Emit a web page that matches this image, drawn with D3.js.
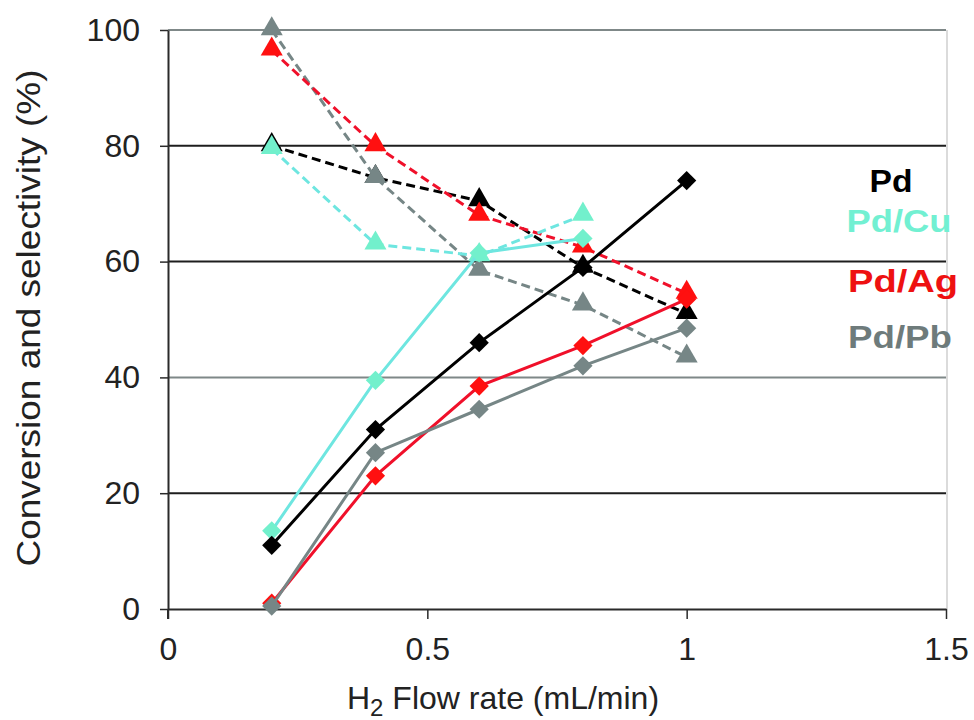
<!DOCTYPE html>
<html>
<head>
<meta charset="utf-8">
<script src="https://cdn.jsdelivr.net/npm/d3@7"></script>
<style>
  html, body { margin: 0; padding: 0; background: #fff; }
  svg { display: block; font-family: "Liberation Sans", Arial, sans-serif; }
</style>
</head>
<body>
<svg id="chart" width="974" height="720"></svg>
<script>
// ---- data ----
const flowRates = [0.2, 0.4, 0.6, 0.8, 1.0];
const xTicks = [0, 0.5, 1, 1.5];
const yTicks = [0, 20, 40, 60, 80, 100];

const pdConversion   = [11, 31, 46, 59, 74];
const pdSelectivity  = [80, 74.5, 70.5, 59, 51];
const cuConversion   = [13.5, 39.5, 61.5, 64, null];
const cuSelectivity  = [79.5, 63, 61, 68, null];
const agConversion   = [1, 23, 38.5, 45.5, 53.5];
const agSelectivity  = [96.5, 80, 68, 62.5, 54.5];
const pbConversion   = [0.5, 27, 34.5, 42, 48.5];
const pbSelectivity  = [100, 74.5, 58.5, 52.5, 43.5];

const catalysts = ["Pd", "Pd/Cu", "Pd/Ag", "Pd/Pb"];

// ---- styles ----
const colors = {
  "Pd":    { line: "#000000", mark: "#000000", text: "#000000" },
  "Pd/Cu": { line: "#6ee6e0", mark: "#72f0cc", text: "#72f0d2" },
  "Pd/Ag": { line: "#f0102a", mark: "#ff1010", text: "#ee1111" },
  "Pd/Pb": { line: "#768686", mark: "#768686", text: "#6e7b7b" }
};

const series = [
  { cat: "Pd",    kind: "sel",  values: pdSelectivity },
  { cat: "Pd/Pb", kind: "sel",  values: pbSelectivity },
  { cat: "Pd/Ag", kind: "sel",  values: agSelectivity },
  { cat: "Pd/Cu", kind: "sel",  values: cuSelectivity },
  { cat: "Pd/Cu", kind: "conv", values: cuConversion },
  { cat: "Pd/Ag", kind: "conv", values: agConversion },
  { cat: "Pd/Pb", kind: "conv", values: pbConversion },
  { cat: "Pd",    kind: "conv", values: pdConversion }
];

const svg = d3.select("#chart");
const x = d3.scaleLinear().domain([0, 1.5]).range([168, 946]);
const y = d3.scaleLinear().domain([0, 100]).range([609, 30]);

// gridlines
svg.append("g").selectAll("line")
  .data(yTicks.filter(d => d > 0))
  .join("line")
  .attr("x1", x(0)).attr("x2", x(1.5))
  .attr("y1", d => y(d)).attr("y2", d => y(d))
  .attr("stroke", d => (d === 100 || d === 40) ? "#7f8888" : "#1e1e1e")
  .attr("stroke-width", 2);

// right border
svg.append("line")
  .attr("x1", x(1.5) + 1).attr("x2", x(1.5) + 1)
  .attr("y1", y(100)).attr("y2", y(0))
  .attr("stroke", "#cfcfcf").attr("stroke-width", 1.5);

// axes
const xAxis = d3.axisBottom(x).tickValues(xTicks).tickFormat(d3.format("")).tickSizeInner(10).tickSizeOuter(0).tickPadding(18);
const yAxis = d3.axisLeft(y).tickValues(yTicks).tickSizeInner(8).tickSizeOuter(0).tickPadding(20);

const gx = svg.append("g").attr("transform", `translate(0,${y(0)})`).call(xAxis);
const gy = svg.append("g").attr("transform", `translate(${x(0)},0)`).call(yAxis);
[gx, gy].forEach(g => {
  g.select(".domain").attr("stroke", "#2a2a2a").attr("stroke-width", 2);
  g.selectAll(".tick line").attr("stroke", "#2a2a2a").attr("stroke-width", 1.5);
  g.selectAll(".tick text").attr("fill", "#222").style("font-size", "32px")
    .style("font-family", "'Liberation Sans', Arial, sans-serif");
});
svg.append("line").attr("x1", x(0)).attr("x2", x(0)).attr("y1", y(0)).attr("y2", y(0) + 10)
  .attr("stroke", "#2a2a2a").attr("stroke-width", 2);

// axis titles
const xl = svg.append("text")
  .attr("x", 347).attr("y", 709)
  .attr("fill", "#222").style("font-size", "32px");
xl.append("tspan").text("H");
xl.append("tspan").attr("dy", 7).style("font-size", "24px").text("2");
xl.append("tspan").attr("dy", -7).text(" Flow rate (mL/min)");

svg.append("text")
  .attr("transform", "translate(40,318) rotate(-90)")
  .attr("text-anchor", "middle")
  .attr("fill", "#222").style("font-size", "34px")
  .attr("textLength", 497).attr("lengthAdjust", "spacingAndGlyphs")
  .text("Conversion and selectivity (%)");

// lines + markers
const line = d3.line()
  .defined(d => d.v !== null)
  .x(d => x(d.x)).y(d => y(d.v));

const diamondPath = d3.symbol().type(d3.symbolSquare).size(185)();
const triPath = d3.symbol().type(d3.symbolTriangle).size(210)();

series.forEach(s => {
  const pts = flowRates.map((fx, i) => ({ x: fx, v: s.values[i] }));
  const c = colors[s.cat];
  svg.append("path")
    .datum(pts)
    .attr("d", line)
    .attr("fill", "none")
    .attr("stroke", c.line)
    .attr("stroke-width", 3)
    .attr("stroke-dasharray", s.kind === "sel" ? "9,5" : null);
  svg.append("g").selectAll("path")
    .data(pts.filter(d => d.v !== null))
    .join("path")
    .attr("transform", d => s.kind === "conv"
        ? `translate(${x(d.x)},${y(d.v)}) rotate(45)`
        : `translate(${x(d.x)},${y(d.v) - 1})`)
    .attr("d", s.kind === "conv" ? diamondPath : triPath)
    .attr("fill", c.mark);
});

// legend text
const legendY = [192, 232, 292, 348];
const legendW = [43, 105, 110, 104];
const legendX = [891, 899, 903, 900];
svg.append("g").selectAll("text")
  .data(catalysts)
  .join("text")
  .attr("x", (d, i) => legendX[i])
  .attr("y", (d, i) => legendY[i])
  .attr("text-anchor", "middle")
  .attr("textLength", (d, i) => legendW[i])
  .attr("lengthAdjust", "spacingAndGlyphs")
  .style("font-size", "31px").style("font-weight", "bold")
  .attr("fill", d => colors[d].text)
  .text(d => d);
</script>
</body>
</html>
